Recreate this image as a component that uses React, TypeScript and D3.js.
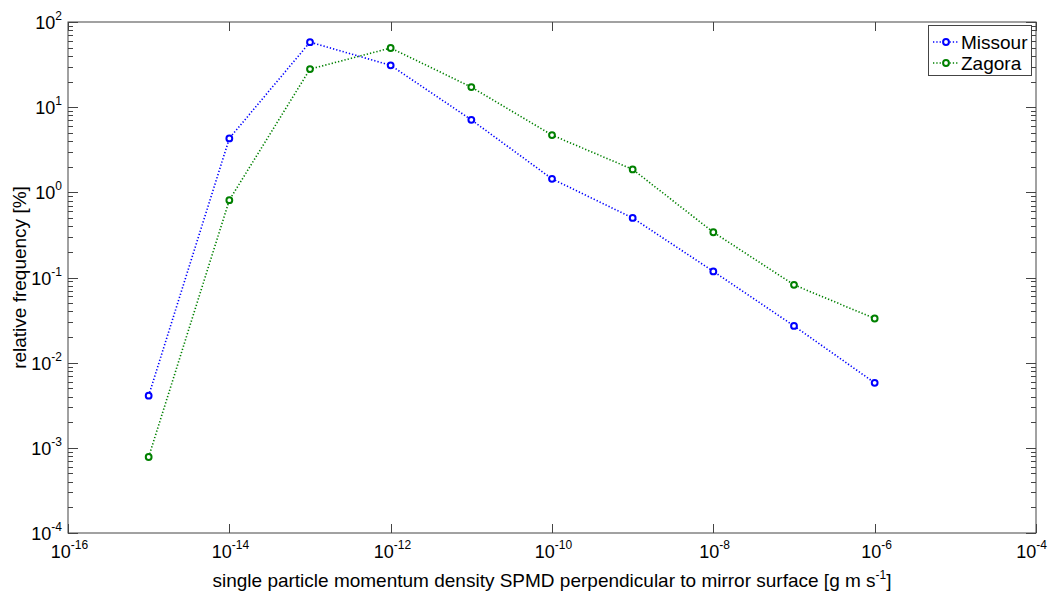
import React from "react";
import * as d3 from "d3";

const xValues = [1e-15, 1e-14, 1e-13, 1e-12, 1e-11, 1e-10, 1e-9, 1e-8, 1e-7, 1e-6];
const missour = [0.0041, 4.3, 58, 31, 7.1, 1.44, 0.5, 0.118, 0.027, 0.0058];
const zagora = [0.00078, 0.81, 28, 49.5, 17.2, 4.7, 1.86, 0.34, 0.082, 0.033];
const xTickExps = [-16, -14, -12, -10, -8, -6, -4];
const yTickExps = [-4, -3, -2, -1, 0, 1, 2];
const seriesNames = ["Missour", "Zagora"];
const seriesColors = ["#0000ff", "#008000"];

const W = 1052;
const H = 594;
const M = { left: 68, right: 1036, top: 22, bottom: 533 };
const AX = "#444";

export default function App() {
  const x = d3.scaleLog().domain([1e-16, 1e-4]).range([M.left, M.right]);
  const y = d3.scaleLog().domain([1e-4, 1e2]).range([M.bottom, M.top]);
  const line = d3
    .line<[number, number]>()
    .x((d) => x(d[0]))
    .y((d) => y(d[1]));

  const series = [missour, zagora];

  const minorY: number[] = [];
  for (let e = -4; e < 2; e++) {
    for (let k = 2; k <= 9; k++) minorY.push(k * Math.pow(10, e));
  }

  return (
    <svg
      width={W}
      height={H}
      style={{ position: "absolute", left: 0, top: 0 }}
      fontFamily="'Liberation Sans', Arial, sans-serif"
    >
      <rect x={0} y={0} width={W} height={H} fill="#fff" />
      <rect
        x={M.left}
        y={M.top}
        width={M.right - M.left}
        height={M.bottom - M.top}
        fill="none"
        stroke={AX}
        strokeWidth={1}
      />
      {yTickExps.map((e) => {
        const yy = Math.round(y(Math.pow(10, e))) + 0.5;
        return (
          <g key={"yt" + e}>
            <line x1={M.left} x2={M.left + 10} y1={yy} y2={yy} stroke={AX} />
            <line x1={M.right} x2={M.right - 10} y1={yy} y2={yy} stroke={AX} />
            <text x={62} y={yy + 6} textAnchor="end" fontSize={18} fill="#000">
              10
              <tspan dy={-9} fontSize={12}>
                {e}
              </tspan>
            </text>
          </g>
        );
      })}
      {minorY.map((v, i) => {
        const yy = Math.round(y(v)) + 0.5;
        return (
          <g key={"ym" + i}>
            <line x1={M.left} x2={M.left + 5} y1={yy} y2={yy} stroke={AX} />
            <line x1={M.right} x2={M.right - 5} y1={yy} y2={yy} stroke={AX} />
          </g>
        );
      })}
      {xTickExps.map((e, i) => {
        const xx = Math.round(x(Math.pow(10, e))) + 0.5;
        const last = i === xTickExps.length - 1;
        return (
          <g key={"xt" + e}>
            <line x1={xx} x2={xx} y1={M.bottom} y2={M.bottom - 9} stroke={AX} />
            <line x1={xx} x2={xx} y1={M.top} y2={M.top + 9} stroke={AX} />
            <text
              x={last ? 1047 : xx + 1}
              y={M.bottom + 25}
              textAnchor={last ? "end" : "middle"}
              fontSize={18}
              fill="#000"
            >
              10
              <tspan dy={-9} fontSize={12}>
                {e}
              </tspan>
            </text>
          </g>
        );
      })}
      {series.map((vals, si) => {
        const pts: [number, number][] = xValues.map((xv, i) => [xv, vals[i]]);
        return (
          <g key={"s" + si}>
            <path
              d={line(pts) || ""}
              fill="none"
              stroke={seriesColors[si]}
              strokeWidth={1.6}
              strokeDasharray="1.3,2"
            />
            {pts.map((p, i) => (
              <circle
                key={i}
                cx={x(p[0])}
                cy={y(p[1])}
                r={2.9}
                fill="#fff"
                stroke={seriesColors[si]}
                strokeWidth={2}
              />
            ))}
          </g>
        );
      })}
      <text x={552} y={587} textAnchor="middle" fontSize={19} fill="#000">
        single particle momentum density SPMD perpendicular to mirror surface [g m s
        <tspan dy={-8} fontSize={12}>
          -1
        </tspan>
        <tspan dy={8}>]</tspan>
      </text>
      <text
        transform={`translate(26, ${(M.top + M.bottom) / 2}) rotate(-90)`}
        textAnchor="middle"
        fontSize={19}
        fill="#000"
      >
        relative frequency [%]
      </text>
      <g>
        <rect x={928.5} y={25.5} width={103} height={50} fill="#fff" stroke={AX} />
        {seriesNames.map((n, i) => {
          const ly = 42 + i * 21;
          return (
            <g key={"lg" + i}>
              <line
                x1={933}
                x2={959}
                y1={ly}
                y2={ly}
                stroke={seriesColors[i]}
                strokeWidth={1.6}
                strokeDasharray="1.3,2"
              />
              <circle cx={946} cy={ly} r={2.9} fill="#fff" stroke={seriesColors[i]} strokeWidth={2} />
              <text x={961} y={ly + 7} fontSize={19} fill="#000">
                {n}
              </text>
            </g>
          );
        })}
      </g>
    </svg>
  );
}
